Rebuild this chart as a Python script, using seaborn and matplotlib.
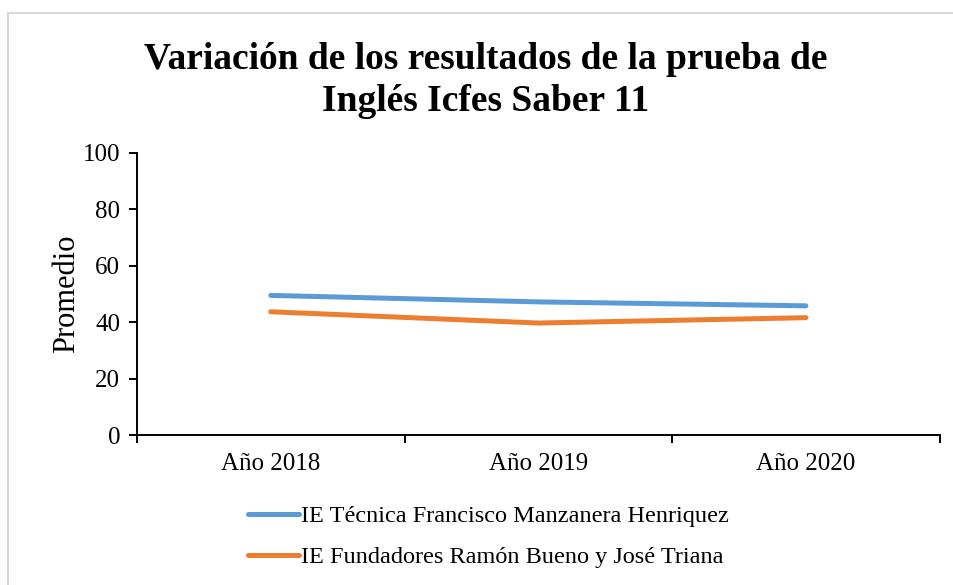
import pandas as pd
import matplotlib
matplotlib.use("Agg")
import matplotlib.pyplot as plt
import seaborn as sns
from matplotlib.patches import Rectangle

# Datos
anios = ["Año 2018", "Año 2019", "Año 2020"]
ie_tecnica = [49.5, 47.2, 45.8]
ie_fundadores = [43.7, 39.7, 41.6]
nombres = ["IE Técnica Francisco Manzanera Henriquez",
           "IE Fundadores Ramón Bueno y José Triana"]
colores = ["#5B9BD5", "#ED7D31"]

df = pd.DataFrame({
    "anio": anios * 2,
    "promedio": ie_tecnica + ie_fundadores,
    "colegio": [nombres[0]] * 3 + [nombres[1]] * 3,
})
df["x"] = df["anio"].map({a: i for i, a in enumerate(anios)})

sns.set_style("white")
plt.rcParams["font.family"] = ["Liberation Serif", "DejaVu Serif"]
plt.rcParams["text.color"] = "black"
plt.rcParams["axes.labelcolor"] = "black"
plt.rcParams["xtick.color"] = "black"
plt.rcParams["ytick.color"] = "black"

fig = plt.figure(figsize=(9.54, 5.85), dpi=100)
ax = fig.add_axes([0.1436, 0.2564, 0.8414, 0.4821])

sns.lineplot(data=df, x="x", y="promedio", hue="colegio", palette=colores,
             hue_order=nombres, linewidth=3.6, ax=ax, legend=True,
             solid_capstyle="round")

ax.set_xlim(-0.5, 2.5)
ax.set_ylim(0, 100)
ax.set_yticks(range(0, 101, 20))
ax.set_xticks([-0.5, 0.5, 1.5, 2.5])
ax.set_xticklabels([])
ax.set_xticks([0, 1, 2], minor=True)
ax.set_xticklabels(anios, minor=True)
ax.tick_params(axis="x", which="minor", bottom=False, length=0, labelsize=18, pad=13)
ax.tick_params(axis="x", which="major", bottom=True, direction="out", length=6,
               width=1.4, color="black")
ax.tick_params(axis="y", left=True, direction="out", length=6, width=1.4,
               color="black", labelsize=18, pad=6)

for s in ["top", "right"]:
    ax.spines[s].set_visible(False)
for s in ["left", "bottom"]:
    ax.spines[s].set_color("black")
    ax.spines[s].set_linewidth(1.4)

ax.set_xlabel("")
ax.set_ylabel("Promedio", fontsize=22, labelpad=1)

fig.suptitle("Variación de los resultados de la prueba de\nInglés Icfes Saber 11",
             fontsize=27, fontweight="bold", y=0.928, x=0.509, linespacing=1.25)

ax.legend(loc="upper left", bbox_to_anchor=(0.111, -0.172), ncol=1, frameon=False,
          fontsize=17.5, handlelength=2.1, handletextpad=0.1, labelspacing=0.78)

# marco gris de la figura
fig.patches.append(Rectangle((8 / 954, -0.1), 1.2, 1.1 - 13 / 585,
                             transform=fig.transFigure, fill=False,
                             edgecolor="#d9d9d9", linewidth=1.5))

fig.savefig("out.png", dpi=100)
